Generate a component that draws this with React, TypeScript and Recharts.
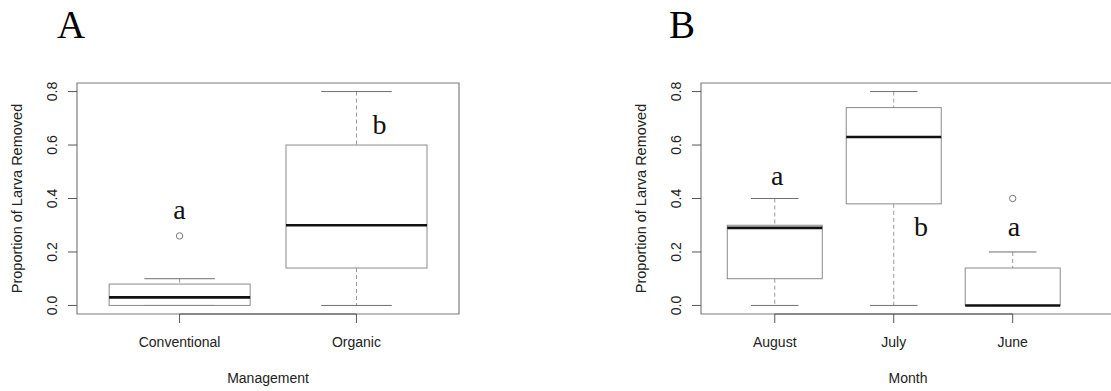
import React from "react";
import {
  ComposedChart,
  Bar,
  Scatter,
  XAxis,
  YAxis,
  ReferenceArea,
  ReferenceLine,
} from "recharts";

// Panel A: management
const managementCats = ["Conventional", "Organic"];
const managementLow = [0, 0];
const managementQ1 = [0, 0.14];
const managementMedian = [0.03, 0.3];
const managementQ3 = [0.08, 0.6];
const managementHigh = [0.1, 0.8];
const managementOutliers = [{ pos: 1, val: 0.26 }];
const managementLetters = [
  { pos: 1, val: 0.325, label: "a" },
  { pos: 2.13, val: 0.64, label: "b" },
];

// Panel B: month
const monthCats = ["August", "July", "June"];
const monthLow = [0, 0, 0];
const monthQ1 = [0.1, 0.38, 0];
const monthMedian = [0.29, 0.63, 0];
const monthQ3 = [0.3, 0.74, 0.14];
const monthHigh = [0.4, 0.8, 0.2];
const monthOutliers = [{ pos: 3, val: 0.4 }];
const monthLetters = [
  { pos: 1.02, val: 0.45, label: "a" },
  { pos: 2.23, val: 0.26, label: "b" },
  { pos: 3.01, val: 0.26, label: "a" },
];

const yTicks = [0, 0.2, 0.4, 0.6, 0.8];
const yDomain: [number, number] = [-0.032, 0.832];

const FRAME = "#7d7d7d";
const TICK = "#555";
const TEXT = "#222";
const SANS = "'Liberation Sans', Arial, Helvetica, sans-serif";
const SERIF = "'Liberation Serif', 'Times New Roman', serif";

function buildRows(lo: number[], q1: number[], med: number[], q3: number[], hi: number[]) {
  return lo.map((_, i) => ({
    pos: i + 1,
    lo: lo[i],
    q1: q1[i],
    med: med[i],
    q3: q3[i],
    hi: hi[i],
  }));
}

function BoxShape(props: any) {
  const { x, y, width, height, payload } = props;
  const top = Math.min(y, y + height);
  const span = Math.abs(height);
  const range = payload.hi - payload.lo;
  const py = (v: number) => top + ((payload.hi - v) / range) * span;
  const cx = x + width / 2;
  const cap = width / 4;
  return (
    <g>
      <line x1={cx} x2={cx} y1={py(payload.hi)} y2={py(payload.q3)} stroke="#999" strokeDasharray="4 3" />
      <line x1={cx} x2={cx} y1={py(payload.q1)} y2={py(payload.lo)} stroke="#999" strokeDasharray="4 3" />
      <line x1={cx - cap} x2={cx + cap} y1={py(payload.hi)} y2={py(payload.hi)} stroke="#6f6f6f" />
      <line x1={cx - cap} x2={cx + cap} y1={py(payload.lo)} y2={py(payload.lo)} stroke="#6f6f6f" />
      <rect
        x={x}
        y={py(payload.q3)}
        width={width}
        height={py(payload.q1) - py(payload.q3)}
        fill="none"
        stroke="#8a8a8a"
      />
      <line x1={x} x2={x + width} y1={py(payload.med)} y2={py(payload.med)} stroke="#111" strokeWidth={2.6} />
    </g>
  );
}

function Outlier(props: any) {
  const { cx, cy } = props;
  return <circle cx={cx} cy={cy} r={3.2} fill="none" stroke="#777" />;
}

function Letter(props: any) {
  const { cx, cy, payload } = props;
  return (
    <text x={cx} y={cy} textAnchor="middle" fontFamily={SERIF} fontSize={28} fill="#111">
      {payload.label}
    </text>
  );
}

function YTick(props: any) {
  const { x, y, payload } = props;
  const bx = x - 9;
  return (
    <text
      x={bx}
      y={y}
      transform={`rotate(-90, ${bx}, ${y})`}
      textAnchor="middle"
      fontSize={14}
      fill={TEXT}
      fontFamily={SANS}
    >
      {payload.value.toFixed(1)}
    </text>
  );
}

interface PanelProps {
  cats: string[];
  rows: ReturnType<typeof buildRows>;
  outliers: { pos: number; val: number }[];
  letters: { pos: number; val: number; label: string }[];
  xDomain: [number, number];
  xTitle: string;
  width: number;
  marginLeft: number;
  marginRight: number;
  barSize: number;
}

function BoxPanel({ cats, rows, outliers, letters, xDomain, xTitle, width, marginLeft, marginRight, barSize }: PanelProps) {
  const xTicks = cats.map((_, i) => i + 1);
  return (
    <ComposedChart
      width={width}
      height={391}
      data={rows}
      margin={{ top: 83, right: marginRight, bottom: 0, left: marginLeft }}
    >
      <XAxis
        type="number"
        dataKey="pos"
        domain={xDomain}
        ticks={xTicks}
        allowDataOverflow
        interval={0}
        height={77}
        tickSize={9}
        axisLine={false}
        tickLine={{ stroke: TICK }}
        tick={(p: any) => (
          <text x={p.x} y={p.y + 22} textAnchor="middle" fontSize={14} fill={TEXT} fontFamily={SANS}>
            {cats[p.payload.value - 1]}
          </text>
        )}
        label={{
          content: (p: any) => {
            const vb = p.viewBox;
            return (
              <text x={vb.x + vb.width / 2} y={383} textAnchor="middle" fontSize={14} fill={TEXT} fontFamily={SANS}>
                {xTitle}
              </text>
            );
          },
        }}
      />
      <XAxis xAxisId="pts" type="number" dataKey="pos" domain={xDomain} allowDataOverflow hide />
      <YAxis
        type="number"
        domain={yDomain}
        ticks={yTicks}
        allowDataOverflow
        width={50}
        tickSize={9}
        axisLine={false}
        tickLine={{ stroke: TICK }}
        tick={<YTick />}
        label={{
          content: (p: any) => {
            const vb = p.viewBox;
            const cx = vb.x + vb.width - 55;
            const cy = vb.y + vb.height / 2;
            return (
              <text
                x={cx}
                y={cy}
                transform={`rotate(-90, ${cx}, ${cy})`}
                textAnchor="middle"
                fontSize={14.5}
                fill={TEXT}
                fontFamily={SANS}
              >
                Proportion of Larva Removed
              </text>
            );
          },
        }}
      />
      <ReferenceArea
        x1={xDomain[0]}
        x2={xDomain[1]}
        y1={yDomain[0]}
        y2={yDomain[1]}
        fill="none"
        stroke={FRAME}
        strokeWidth={1.2}
        ifOverflow="visible"
      />
      <ReferenceLine
        segment={[
          { x: 1, y: yDomain[0] },
          { x: cats.length, y: yDomain[0] },
        ]}
        stroke="#555"
        strokeWidth={1.2}
      />
      <Bar
        dataKey={(d: any) => [d.lo, d.hi]}
        barSize={barSize}
        shape={<BoxShape />}
        isAnimationActive={false}
      />
      <Scatter xAxisId="pts" data={outliers} dataKey="val" shape={<Outlier />} isAnimationActive={false} />
      <Scatter xAxisId="pts" data={letters} dataKey="val" shape={<Letter />} isAnimationActive={false} />
    </ComposedChart>
  );
}

export default function App() {
  const rowsA = buildRows(managementLow, managementQ1, managementMedian, managementQ3, managementHigh);
  const rowsB = buildRows(monthLow, monthQ1, monthMedian, monthQ3, monthHigh);
  return (
    <div
      style={{
        position: "absolute",
        left: 0,
        top: 0,
        width: 1111,
        height: 391,
        overflow: "hidden",
        background: "#fff",
        fontFamily: SANS,
      }}
    >
      <div style={{ position: "absolute", left: 0, top: 0 }}>
        <BoxPanel
          cats={managementCats}
          rows={rowsA}
          outliers={managementOutliers}
          letters={managementLetters}
          xDomain={[0.42, 2.58]}
          xTitle="Management"
          width={560}
          marginLeft={27}
          marginRight={101}
          barSize={141}
        />
      </div>
      <div style={{ position: "absolute", left: 555, top: 0 }}>
        <BoxPanel
          cats={monthCats}
          rows={rowsB}
          outliers={monthOutliers}
          letters={monthLetters}
          xDomain={[0.38, 3.86]}
          xTitle="Month"
          width={600}
          marginLeft={96}
          marginRight={40}
          barSize={95}
        />
      </div>
      <div
        style={{
          position: "absolute",
          left: 57,
          top: 2,
          fontFamily: SERIF,
          fontSize: 39,
          lineHeight: "46px",
          color: "#000",
        }}
      >
        A
      </div>
      <div
        style={{
          position: "absolute",
          left: 669,
          top: 2,
          fontFamily: SERIF,
          fontSize: 39,
          lineHeight: "46px",
          color: "#000",
        }}
      >
        B
      </div>
    </div>
  );
}
